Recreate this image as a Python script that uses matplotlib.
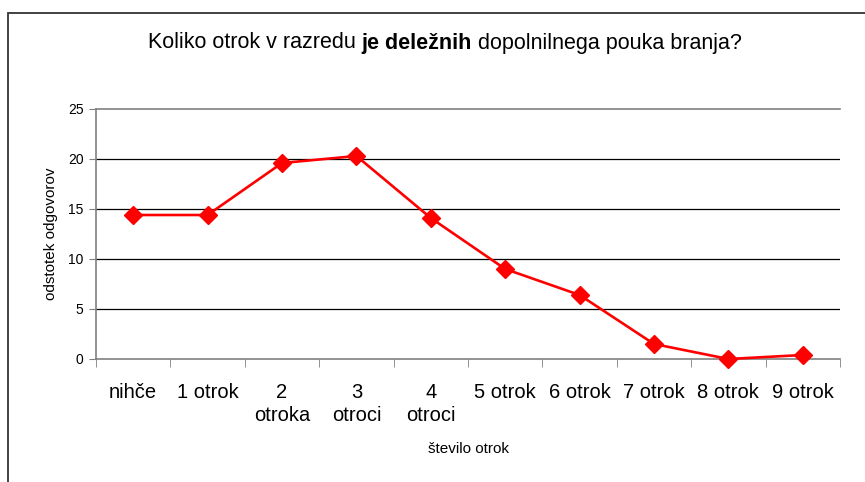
import matplotlib
matplotlib.use("Agg")
import matplotlib.pyplot as plt
import numpy as np
from matplotlib.patches import Rectangle

plt.rcParams['font.family'] = ['Liberation Sans', 'DejaVu Sans']

# podatki
categories = ['nihče', '1 otrok', '2\notroka', '3\notroci', '4\notroci',
              '5 otrok', '6 otrok', '7 otrok', '8 otrok', '9 otrok']
values = [14.4, 14.4, 19.6, 20.3, 14.1, 9.0, 6.4, 1.5, 0.0, 0.4]
yticks = [0, 5, 10, 15, 20, 25]

W, H = 865, 482
fig = plt.figure(figsize=(W / 100, H / 100), dpi=100)

# okvir okoli grafa
fig.patches.append(Rectangle((8 / W, -0.1), 1.2, (H - 13) / H + 0.1,
                             transform=fig.transFigure, fill=False,
                             edgecolor='#333333', linewidth=1.3))

ax = fig.add_axes([96 / W, (H - 359) / H, (840 - 96) / W, (359 - 109) / H])
x = np.arange(len(categories))
ax.plot(x, values, color='#ff0000', linewidth=1.9, marker='D',
        markersize=9.5, zorder=3, clip_on=False)

ax.set_xlim(-0.5, len(categories) - 0.5)
ax.set_ylim(0, 25)
ax.set_yticks(yticks)
ax.set_xticks(x)
ax.set_xticklabels(categories, fontsize=14.5, linespacing=1.3, va='top')
ax.set_xticks(np.arange(-0.5, len(categories)), minor=True)
ax.tick_params(axis='x', which='major', length=0, pad=17)
ax.tick_params(axis='x', which='minor', length=6, color='#808080', direction='out')
ax.tick_params(axis='y', length=5, color='#808080', labelsize=10, pad=4)

for y in yticks[1:-1]:
    ax.axhline(y, color='black', linewidth=0.9, zorder=1)

ax.spines['right'].set_visible(False)
for s in ['left', 'bottom', 'top']:
    ax.spines[s].set_color('#808080')
    ax.spines[s].set_linewidth(1.2)

ax.set_xlabel('število otrok', fontsize=11)
ax.xaxis.set_label_coords(0.5, (359 - 442) / 250, transform=ax.transAxes)
ax.set_ylabel('odstotek odgovorov', fontsize=11)
ax.yaxis.set_label_coords((58 - 96) / 744, 0.5, transform=ax.transAxes)

# naslov z odebeljenim delom
parts = [('Koliko otrok v razredu ', 'normal'), ('je deležnih', 'bold'),
         (' dopolnilnega pouka branja?', 'normal')]
fig.canvas.draw()
renderer = fig.canvas.get_renderer()
texts = []
for s, w in parts:
    t = fig.text(0, 1 - 43 / H, s, fontsize=15.5, fontweight=w, va='center', ha='left')
    texts.append(t)
widths = [t.get_window_extent(renderer).width for t in texts]
x0 = 445 - sum(widths) / 2
for t, w in zip(texts, widths):
    t.set_x(x0 / W)
    x0 += w

fig.savefig('out.png', dpi=100)
